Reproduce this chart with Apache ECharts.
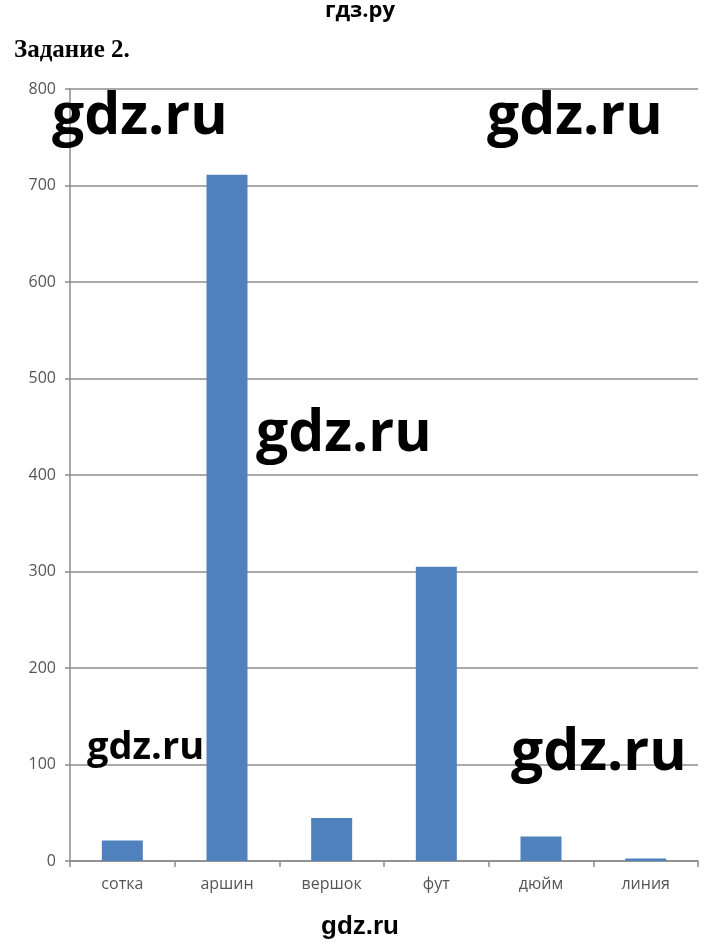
<!DOCTYPE html>
<html>
<head>
<meta charset="utf-8">
<script src="https://cdn.jsdelivr.net/npm/echarts@6/dist/echarts.min.js"></script>
<style>html,body{margin:0;padding:0;background:#fff}#c{width:720px;height:946px}</style>
</head>
<body>
<div id="c"></div>
<script>
const categories = ['сотка', 'аршин', 'вершок', 'фут', 'дюйм', 'линия'];
const values = [21.34, 711.2, 44.45, 304.8, 25.4, 2.54];
const yTicks = [0, 100, 200, 300, 400, 500, 600, 700, 800];

const chart = echarts.init(document.getElementById('c'), null, {renderer: 'canvas'});
const wm = (x, y, size) => ({
  type: 'text', left: x, top: y, z: 100,
  style: {text: 'gdz.ru', font: 'bold ' + size + 'px "Open Sans", sans-serif', fill: '#000'}
});
chart.setOption({
  animation: false,
  backgroundColor: '#fff',
  grid: {left: 70, right: 22, top: 89, height: 772},
  xAxis: {
    type: 'category', data: categories,
    axisLine: {lineStyle: {color: '#8c8c8c', width: 1.5}},
    axisTick: {show: true, length: 6, lineStyle: {color: '#8c8c8c', width: 1.5}},
    axisLabel: {color: '#555', fontSize: 16, fontFamily: '"Open Sans", sans-serif', margin: 15}
  },
  yAxis: {
    type: 'value', min: yTicks[0], max: yTicks[yTicks.length - 1], interval: 100,
    axisLine: {show: true, lineStyle: {color: '#8c8c8c', width: 1.5}},
    axisTick: {show: true, length: 5, lineStyle: {color: '#8c8c8c', width: 1.5}},
    axisLabel: {color: '#555', fontSize: 16, fontFamily: '"Open Sans", sans-serif', margin: 14},
    splitLine: {lineStyle: {color: '#8c8c8c', width: 1.5}}
  },
  series: [{
    type: 'bar', data: values, barWidth: 41,
    itemStyle: {color: '#4F81BD'}
  }],
  graphic: [
    {type: 'text', left: 'center', top: 0, style: {text: 'гдз.ру', font: 'bold 22px "Open Sans", sans-serif', fill: '#000'}},
    {type: 'text', left: 14, top: 38, style: {text: 'Задание 2.', font: 'bold 25px "Liberation Serif", serif', fill: '#000'}},
    wm(52, 89, 57),
    wm(487, 89, 57),
    wm(256, 406, 57),
    wm(87, 729, 38),
    wm(511, 725, 57),
    {type: 'text', left: 'center', top: 914, style: {text: 'gdz.ru', font: 'bold 26px "Liberation Sans", sans-serif', fill: '#000'}}
  ]
});
</script>
</body>
</html>
